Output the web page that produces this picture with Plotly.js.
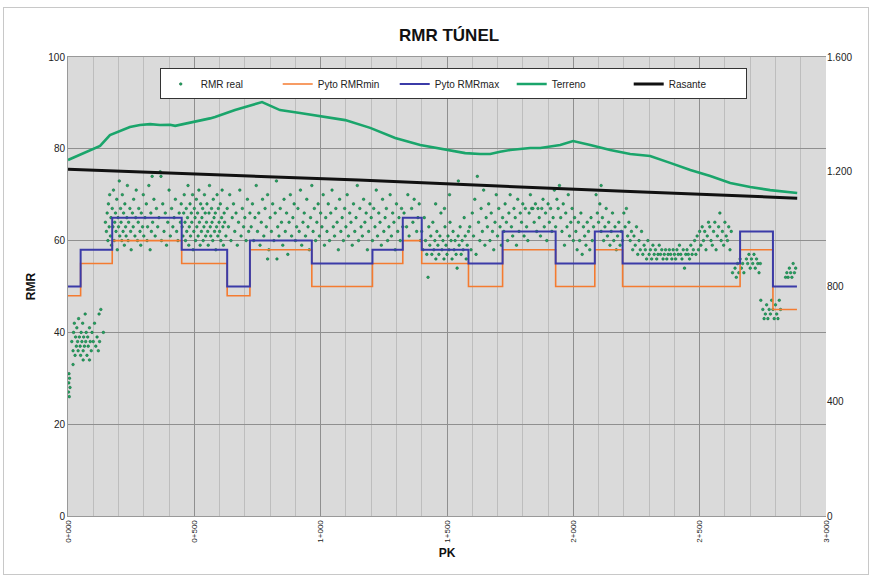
<!DOCTYPE html>
<html><head><meta charset="utf-8">
<script src="https://cdn.plot.ly/plotly-3.0.1.min.js"></script>
<style>body{margin:0;background:#fff}#frame{position:absolute;left:3px;top:7px;width:864px;height:566px;border:1px solid #c8c8c8;pointer-events:none;z-index:5}</style>
</head><body>
<div id="chart" style="width:872px;height:576px"></div>
<div id="frame"></div>
<script>
// ---- Data ----
const xTickVals = [0, 500, 1000, 1500, 2000, 2500, 3000];
const xTickText = ["0+000", "0+500", "1+000", "1+500", "2+000", "2+500", "3+000"];

// Step profiles (PK of segment starts, value of segment)
const stepPK = [0, 50, 175, 450, 630, 720, 965, 1205, 1325, 1400, 1585, 1720, 1930, 2085, 2195, 2660, 2790, 2885];
const rmrMax = [50, 58, 65, 58, 50, 60, 55, 58, 65, 58, 55, 62, 55, 62, 55, 62, 50, 50];
const rmrMin = [48, 55, 60, 55, 48, 58, 50, 55, 60, 55, 50, 58, 50, 58, 50, 58, 45, 45];

// Terreno (elevation, right axis)
const terrPK = [0, 87, 127, 166, 206, 245, 285, 325, 364, 404, 424, 483, 503, 562, 582, 641, 661, 768, 839, 918, 998, 1097, 1196, 1295, 1394, 1493, 1572, 1631, 1671, 1710, 1750, 1829, 1869, 1948, 1999, 2067, 2146, 2225, 2304, 2383, 2463, 2542, 2621, 2700, 2779, 2886];
const terrZ  = [1241, 1276, 1290, 1328, 1342, 1356, 1363, 1366, 1363, 1364, 1360, 1371, 1373, 1386, 1391, 1410, 1415, 1443, 1415, 1405, 1394, 1380, 1353, 1318, 1293, 1276, 1265, 1262, 1262, 1270, 1276, 1283, 1283, 1293, 1307, 1293, 1276, 1262, 1255, 1231, 1206, 1185, 1161, 1147, 1136, 1126];

// Rasante (right axis)
const rasPK = [0, 1150, 2250, 2886];
const rasZ  = [1209, 1171, 1130, 1108];

// RMR real measurements
const realPK = [
2,3,4,5,6,8,
15,20,20,22,25,28,30,33,35,38,40,42,45,48,50,52,55,58,60,60,62,65,68,70,72,75,78,80,85,85,88,92,95,100,105,110,115,120,123,125,130,140,
148,152,155,158,160,163,165,168,170,172,175,178,180,183,185,188,190,193,195,198,200,203,205,208,210,213,215,218,220,223,225,228,230,233,235,238,240,245,248,250,255,258,260,265,268,270,275,278,280,285,288,290,295,298,300,305,310,313,315,320,325,328,330,333,335,340,345,350,355,360,365,368,370,375,380,385,390,395,400,405,410,415,420,425,430,435,440,445,
448,452,455,458,460,463,465,468,470,473,475,478,480,483,485,488,490,493,495,498,500,503,505,508,510,513,515,518,520,523,525,528,530,533,535,538,540,543,545,548,550,553,555,558,560,563,565,568,570,573,575,578,580,583,585,588,590,593,595,598,600,603,605,608,610,613,615,618,620,625,630,635,640,645,650,655,660,665,670,675,680,685,690,695,700,705,710,715,720,
725,730,735,740,745,750,755,760,765,770,775,780,785,790,790,795,800,805,810,815,820,825,827,830,835,840,845,850,855,860,865,870,875,880,885,890,895,900,905,910,915,920,925,930,935,940,945,950,955,960,965,970,975,980,985,990,995,1000,1005,1010,1015,1020,1025,1030,1035,1040,1045,1050,1055,1060,1065,1070,1075,1080,1085,1090,1095,1100,1105,1110,1115,1120,1125,1130,1135,1140,1145,1150,1155,1160,1165,1170,1175,1180,1185,1190,1195,1200,1205,1210,1215,1220,1225,1230,1235,1240,1245,1250,1255,1260,1265,1270,1275,1280,1285,1290,1295,1300,1305,1310,1315,1320,1325,
1330,1340,1345,1350,1360,1365,1370,1380,1385,1390,1395,
1400,1405,1410,1415,1420,1425,1428,1432,1436,1440,1444,1448,1452,1455,1456,1460,1464,1468,1472,1476,1480,1484,1488,1490,1492,1496,1500,1504,1508,1510,1512,1516,1520,1524,1528,1532,1536,1540,1544,1545,1548,1552,1556,1560,1564,1568,1572,1576,1580,1585,
1590,1595,1600,1605,1610,1615,1620,1625,1630,1635,1640,1645,1650,1655,1660,1665,1670,1675,1680,1685,1690,1695,1700,1705,1710,1715,1720,
1725,1730,1735,1740,1745,1750,1755,1760,1765,1770,1775,1780,1785,1790,1795,1800,1805,1810,1815,1820,1825,1830,1835,1840,1845,1850,1855,1860,1865,1870,1875,1880,1885,1890,1895,1900,1905,1910,1915,1920,1925,1930,
1935,1940,1945,1950,1955,1960,1965,1970,1975,1980,1985,1990,1995,2000,2005,
2010,2015,2020,2025,2030,2035,2040,2045,2050,2055,2060,2065,2070,2075,2080,
2090,2095,2100,2105,2110,2110,2115,2120,2125,2130,2135,2140,2145,2150,2155,2160,2165,2170,2175,2180,2185,2190,2195,
2200,2205,2210,2215,2220,2225,2230,2235,2240,2245,2250,2255,2260,2265,2270,2275,2280,2285,2290,2295,2300,2305,2310,2315,2320,2325,2330,2335,2340,
2345,2350,2355,2360,2365,2370,2375,2380,2385,2390,2395,2400,2405,2410,2415,2420,2425,2430,2435,2440,2445,2450,2455,2460,2465,2470,2475,2480,2485,2490,2495,2500,
2505,2510,2515,2520,2525,2530,2535,2540,2545,2550,2555,2560,2565,2570,2575,2580,2585,2590,2595,2600,2605,2610,2615,2620,2625,
2630,2640,2645,2650,2655,2660,2665,2670,2675,
2685,2690,2695,2700,2705,2710,2715,2720,2725,2730,2735,2740,
2742,2750,2755,2760,2765,2770,2775,2780,2785,2790,2795,2800,2805,2810,2815,2820,
2840,2845,2850,2855,2860,2865,2870,2875,2880
];
const realRMR = [
27,29,31,26,30,28,
38,36,33,40,42,35,39,37,41,38,36,43,39,37,35,40,38,42,36,34,39,37,44,38,40,35,39,37,41,34,38,36,40,38,42,37,39,36,44,38,45,40,
64,62,66,60,68,63,70,61,65,59,67,63,71,60,64,66,62,69,58,65,63,73,61,67,64,60,70,62,66,59,68,63,61,65,72,60,64,67,62,58,66,63,69,61,65,71,60,64,67,62,59,66,63,70,61,65,68,60,63,72,58,66,62,74,64,69,61,67,63,65,75,74,60,68,62,66,59,64,71,61,67,63,65,69,62,60,66,64,
68,63,61,66,70,64,60,67,62,65,72,59,63,68,61,66,64,70,58,62,67,65,60,69,63,66,61,71,64,59,68,62,65,67,60,63,70,66,61,64,68,62,59,66,72,63,61,67,64,60,69,65,62,66,58,63,70,61,67,64,62,68,60,65,71,63,59,66,64,61,67,63,70,60,65,68,62,66,59,64,71,61,67,63,65,60,69,62,66,
63,68,60,65,72,62,66,59,64,69,61,67,63,70,56,58,65,62,68,60,66,73,56,63,61,67,64,59,69,62,66,57,64,70,61,65,68,60,63,67,62,71,59,64,66,61,69,63,58,65,72,62,67,60,64,68,61,66,63,70,59,65,62,68,60,66,71,63,61,67,64,58,69,62,65,60,67,63,70,61,66,64,59,68,62,65,72,60,67,63,61,69,64,66,58,62,68,65,60,67,63,71,61,66,64,59,69,62,65,67,60,63,70,61,66,64,58,68,62,65,60,67,63,
66,63,70,61,67,64,69,62,65,68,60,
62,58,65,60,57,52,63,59,61,57,64,58,60,68,56,62,59,57,61,66,58,60,56,67,63,59,57,61,58,70,64,60,56,62,58,60,57,54,61,73,59,63,57,60,58,65,61,56,59,62,
63,58,66,61,69,57,74,64,60,67,62,71,59,65,63,68,60,66,62,58,64,70,61,67,63,59,65,
62,68,64,60,66,70,63,61,67,65,59,69,62,66,64,68,61,67,63,60,66,70,67,67,64,68,62,67,65,61,67,69,63,66,60,68,64,67,62,65,71,63,
69,67,72,65,62,68,59,66,63,70,61,64,67,60,65,
62,58,64,60,66,57,63,61,59,64,62,58,65,60,63,
70,66,64,68,62,72,65,60,63,67,61,64,59,62,66,60,63,58,61,64,59,62,60,
66,63,67,61,64,60,62,58,61,59,63,57,60,58,62,57,59,58,56,60,57,58,56,59,57,58,56,57,59,
57,58,56,57,58,56,57,58,57,56,58,57,56,58,57,59,57,56,58,54,57,58,57,56,59,57,58,60,57,61,58,62,
59,63,60,62,58,61,64,63,60,59,62,64,58,61,63,66,60,62,59,64,61,60,63,58,62,
53,54,52,55,53,56,54,55,53,
56,55,57,54,56,55,57,54,56,55,53,55,
47,45,43,44,46,43,45,44,47,45,43,46,44,43,47,45,
52,53,52,54,53,52,55,53,54
];

// ---- Traces ----
const traces = [
  {type:'scatter', mode:'markers', name:'RMR real', x:realPK, y:realRMR,
   marker:{size:2.6, color:'#22a862', line:{width:0.5, color:'#0c5f34'}}},
  {type:'scatter', mode:'lines', name:'Pyto RMRmin', x:stepPK, y:rmrMin,
   line:{shape:'hv', color:'#f47b30', width:1.6}},
  {type:'scatter', mode:'lines', name:'Pyto RMRmax', x:stepPK, y:rmrMax,
   line:{shape:'hv', color:'#3b3ba8', width:2}},
  {type:'scatter', mode:'lines', name:'Terreno', x:terrPK, y:terrZ, yaxis:'y2',
   line:{color:'#1aa56b', width:2.6}},
  {type:'scatter', mode:'lines', name:'Rasante', x:rasPK, y:rasZ, yaxis:'y2',
   line:{color:'#111111', width:3}}
];

const fontFam = 'Liberation Sans Narrow, Liberation Sans, Arial, sans-serif';
const layout = {
  width:872, height:576,
  margin:{l:68, r:46, t:57, b:60},
  paper_bgcolor:'#ffffff', plot_bgcolor:'#dadada',
  separators:',.',
  font:{family:fontFam, size:10, color:'#222'},
  title:{text:'<b>RMR TÚNEL</b>', font:{family:fontFam, size:17, color:'#111'},
         x:0.515, xanchor:'center', y:0.94, yanchor:'middle', yref:'container'},
  showlegend:true,
  legend:{orientation:'h', x:0.121, y:0.975, xanchor:'left', yanchor:'top',
          bgcolor:'#ffffff', bordercolor:'#333', borderwidth:1,
          font:{family:fontFam, size:10, color:'#222'}, entrywidth:72, entrywidthmode:'pixels',
          itemwidth:30, tracegroupgap:0},
  xaxis:{range:[0,3000], tickvals:xTickVals, ticktext:xTickText, tickangle:-90,
         tickfont:{size:8, family:fontFam}, showgrid:true, gridcolor:'#8f8f8f', gridwidth:1,
         minor:{dtick:100, showgrid:true, gridcolor:'#bdbdbd', gridwidth:1},
         zeroline:false, showline:true, linecolor:'#999', mirror:true, ticks:'',
         title:{text:'<b>PK</b>', font:{size:12, family:'Liberation Sans, Arial', color:'#111'}, standoff:6}},
  yaxis:{range:[0,100], dtick:20, showgrid:true, gridcolor:'#8f8f8f', gridwidth:1,
         zeroline:false, showline:true, linecolor:'#999', ticks:'', tickfont:{size:10, family:fontFam},
         title:{text:'<b>RMR</b>', font:{size:12, family:'Liberation Sans, Arial', color:'#111'}, standoff:10}},
  yaxis2:{range:[0,1600], dtick:400, overlaying:'y', side:'right', showgrid:false,
          zeroline:false, tickformat:',d', ticks:'', tickfont:{size:10, family:fontFam}}
};

Plotly.newPlot('chart', traces, layout, {displayModeBar:false, staticPlot:true});
</script>
</body></html>
